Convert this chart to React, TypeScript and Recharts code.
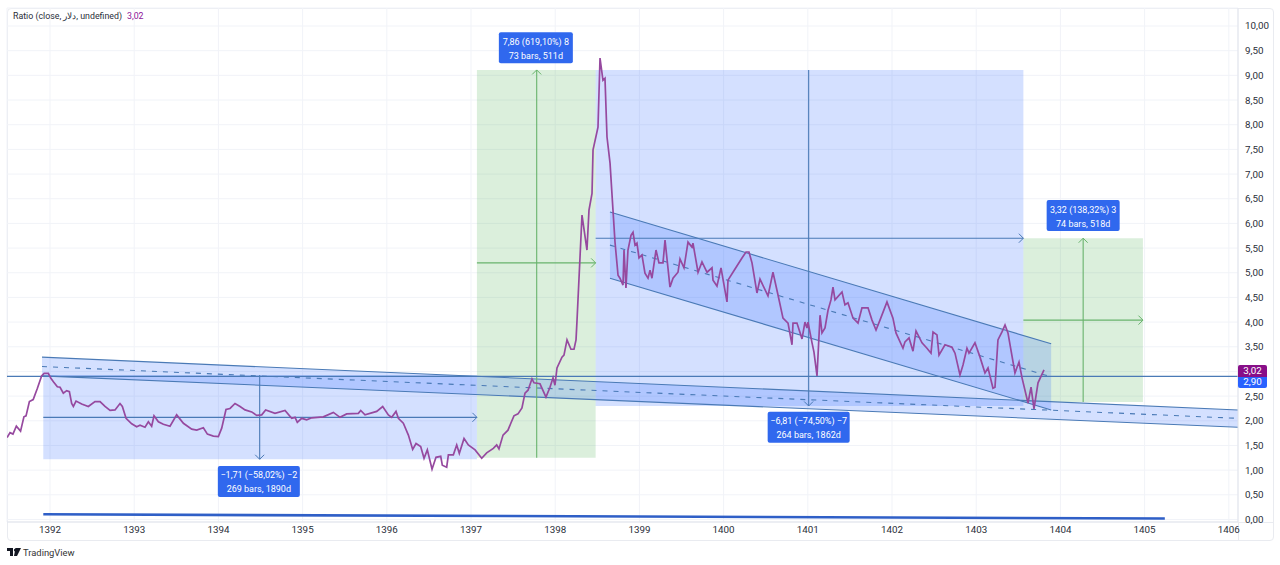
import React from "react";
import { ComposedChart, Line, Area, XAxis, YAxis, CartesianGrid, ReferenceArea, ReferenceLine, ReferenceDot } from "recharts";

const yTicks = [0,0.5,1,1.5,2,2.5,3,3.5,4,4.5,5,5.5,6,6.5,7,7.5,8,8.5,9,9.5,10];
const xTicks = [1392,1393,1394,1395,1396,1397,1398,1399,1400,1401,1402,1403,1404,1405,1406];

const years1 = [1391.49,1391.525,1391.56,1391.6,1391.65,1391.69,1391.715,1391.755,1391.8,1391.85,1391.9,1391.93,1391.98,1392.01,1392.04,1392.087,1392.119,1392.158,1392.198,1392.23,1392.257,1392.277,1392.309,1392.376,1392.455,1392.534,1392.594,1392.653,1392.713,1392.772,1392.831,1392.859,1392.903,1392.97,1393.029,1393.069,1393.128,1393.168,1393.207,1393.235,1393.287,1393.346,1393.425,1393.504,1393.584,1393.683,1393.742,1393.821,1393.869,1393.94,1393.999,1394.039,1394.09,1394.138,1394.197,1394.257,1394.316,1394.395,1394.454,1394.514,1394.561,1394.672,1394.791,1394.87,1394.91,1394.937,1394.989,1395.048,1395.108,1395.246,1395.365,1395.444,1395.523,1395.662,1395.69,1395.741,1395.88,1395.951,1396.018,1396.058,1396.109,1396.137,1396.196,1396.256,1396.307,1396.347,1396.402,1396.442,1396.481,1396.537,1396.584,1396.64,1396.659,1396.711,1396.731,1396.79,1396.83,1396.861,1396.917,1396.968,1397.048,1397.127,1397.186,1397.265,1397.305];
const values1 = [1.66,1.76,1.73,1.89,1.79,2.08,2.1,2.39,2.43,2.66,2.91,2.96,2.96,2.86,2.79,2.69,2.68,2.56,2.61,2.59,2.35,2.29,2.4,2.34,2.29,2.39,2.39,2.29,2.21,2.22,2.35,2.29,2.05,1.94,1.88,1.91,1.87,1.98,1.89,2.1,1.98,1.93,1.89,2.12,1.95,1.83,1.81,1.86,1.73,1.69,1.68,1.85,2.23,2.25,2.35,2.29,2.22,2.18,2.11,2.12,2.22,2.15,2.21,2.05,2.07,1.97,2.05,2.02,2.06,2.08,2.17,2.07,2.14,2.15,2.21,2.12,2.19,2.29,2.12,2.07,2.19,2.05,1.95,1.71,1.42,1.54,1.48,1.24,1.41,1.02,1.26,1.28,1.1,1.06,1.31,1.31,1.51,1.34,1.64,1.51,1.41,1.24,1.35,1.44,1.51];

const years2 = [1397.332,1397.38,1397.439,1397.475,1397.51,1397.558,1397.605,1397.641,1397.677,1397.724,1397.748,1397.819,1397.89,1397.938,1397.974,1397.997,1398.021,1398.08,1398.104,1398.14,1398.187,1398.223,1398.247,1398.259,1398.318,1398.377,1398.401,1398.437,1398.449,1398.508,1398.532,1398.567,1398.591,1398.615,1398.651,1398.686,1398.71,1398.746,1398.769,1398.805,1398.817,1398.84,1398.864,1398.9,1398.924,1398.948,1398.971,1398.995,1399.03,1399.066,1399.102,1399.126,1399.149,1399.197,1399.232,1399.28,1399.304,1399.363,1399.399,1399.458,1399.482,1399.529,1399.577,1399.624,1399.636,1399.696,1399.743,1399.803,1399.862,1399.874,1399.921,1399.969];
const values2 = [1.43,1.71,1.81,1.96,2.1,2.14,2.26,2.56,2.62,2.85,2.77,2.75,2.48,2.68,2.87,2.72,3.07,3.29,3.33,3.64,3.45,3.45,3.64,4.04,6.17,5.46,6.27,6.61,7.49,7.95,9.35,8.9,8.94,7.75,7.22,6.27,5.62,4.95,4.89,4.75,5.46,4.69,5.46,5.76,5.82,5.56,5.6,5.3,5.36,4.99,4.89,5.05,4.89,5.46,5.2,5.2,5.66,4.71,4.89,5.01,5.28,5.1,5.62,5.52,5.6,5.01,5.22,5.01,5.1,4.85,4.73,5.1];

const years3 = [1400.04,1400.052,1400.111,1400.218,1400.266,1400.301,1400.337,1400.396,1400.432,1400.527,1400.586,1400.646,1400.705,1400.765,1400.812,1400.824,1400.871,1400.931,1400.966,1400.99,1401.002,1401.05,1401.073,1401.109,1401.145,1401.168,1401.204,1401.24,1401.275,1401.299,1401.323,1401.406,1401.441,1401.477,1401.537,1401.596,1401.643,1401.715,1401.762,1401.81,1401.857,1401.94,1402.011,1402.047,1402.13,1402.154,1402.202,1402.249,1402.285,1402.356,1402.415,1402.463,1402.487,1402.534,1402.558,1402.629,1402.712,1402.748,1402.807,1402.843,1402.89,1402.914,1402.985,1403.045,1403.104,1403.14,1403.199,1403.223,1403.258,1403.306,1403.342,1403.377,1403.46,1403.508,1403.544,1403.615,1403.651,1403.686,1403.734,1403.805];
const values3 = [4.41,4.85,5.01,5.3,5.42,5.42,5.2,4.59,4.87,4.53,5.01,4.55,4.08,3.98,3.54,3.98,3.98,3.66,4,3.88,4,3.58,3.39,2.91,4.14,3.78,3.88,4.24,4.45,4.71,4.45,4.61,4.35,4.39,4.08,3.98,4.29,4.29,4.04,3.84,4.04,4.41,4.08,3.78,3.47,3.6,3.68,3.41,3.82,3.58,3.47,3.37,3.8,3.74,3.33,3.54,3.49,3.37,2.93,3.13,3.47,3.37,3.58,3.29,2.97,3.07,2.66,2.68,3.64,3.8,3.94,3.78,2.97,3.19,2.87,2.36,2.68,2.24,2.77,3.03];

const ratioData = [...years1, ...years2, ...years3].map((year, i) => ({ year, ratio: [...values1, ...values2, ...values3][i] }));

const wideChannelYears = [1391.905, 1406.109];
const wideChannelTop = [3.29, 2.22];
const wideChannelMid = [3.1, 2.05];
const wideChannelBottom = [2.91, 1.87];
const steepChannelYears = [1398.65, 1403.89];
const steepChannelTop = [6.23, 3.56];
const steepChannelMid = [5.56, 2.89];
const steepChannelBottom = [4.89, 2.22];
const wideChannel = wideChannelYears.map((year, i) => ({ year, band: [wideChannelBottom[i], wideChannelTop[i]] }));
const steepChannel = steepChannelYears.map((year, i) => ({ year, band: [steepChannelBottom[i], steepChannelTop[i]] }));

const baseYears = [1391.92, 1405.24];
const baseValues = [0.105, 0.02];

const BLUE = "#2962ff";
const GREEN = "#4caf50";
const STEEL = "#4a7ab6";
const ARROW_GREEN = "#68b36c";
const FONT = "Roboto, 'Noto Sans', sans-serif";

type Dir = "up" | "down" | "right";
const chevron = (dir: Dir, color: string) => (p: any) => {
  const { cx, cy } = p;
  const s = 4.5;
  const d = dir === "right"
    ? `M${cx - s} ${cy - s}L${cx} ${cy}L${cx - s} ${cy + s}`
    : dir === "up"
    ? `M${cx - s} ${cy + s}L${cx} ${cy}L${cx + s} ${cy + s}`
    : `M${cx - s} ${cy - s}L${cx} ${cy}L${cx + s} ${cy - s}`;
  return <path d={d} fill="none" stroke={color} strokeWidth={1} />;
};

const tag = (lines: string[], w: number) => (p: any) => {
  const { cx, cy } = p;
  return (
    <g>
      <rect x={cx - w / 2} y={cy - 15.5} width={w} height={31} rx={2} fill="#3068ee" />
      <text x={cx} y={cy - 3} textAnchor="middle" fontSize={9} fontFamily={FONT} fill="#fff">{lines[0]}</text>
      <text x={cx} y={cy + 11} textAnchor="middle" fontSize={9} fontFamily={FONT} fill="#fff">{lines[1]}</text>
    </g>
  );
};

function seg(x1: number, y1: number, x2: number, y2: number, color: string, extra: any = {}) {
  return (
    <ReferenceLine
      key={`${x1}-${y1}-${x2}-${y2}`}
      segment={[{ x: x1, y: y1 }, { x: x2, y: y2 }]}
      stroke={color}
      strokeWidth={1.1}
      ifOverflow="visible"
      {...extra}
    />
  );
}

// The 3,00 label sits behind the live value tags, as in the reference.
const fmt = (v: number) => (v === 3 ? "" : v.toFixed(2).replace(".", ","));

export default function App() {
  return (
    <div style={{ position: "absolute", left: 0, top: 0, width: 1280, height: 565, background: "#fff", overflow: "hidden", fontFamily: FONT }}>
      <div style={{ position: "absolute", left: 7, top: 8, width: 1267, height: 533, border: "1px solid #e9ebf0", borderRadius: 4, boxSizing: "border-box" }} />
      <div style={{ position: "absolute", left: 1238, top: 522, width: 36, height: 1, background: "#e9ebf0" }} />
      <div style={{ position: "absolute", left: 1238, top: 522, width: 1, height: 19, background: "#e9ebf0" }} />
      <ComposedChart width={1280} height={565} margin={{ top: 8, right: 0, bottom: 0, left: 7 }} style={{ position: "absolute", left: 0, top: 0 }}>
        <CartesianGrid stroke="#f1f3f8" strokeWidth={1} />
        <XAxis
          dataKey="year"
          type="number"
          domain={[1391.489, 1406.109]}
          ticks={xTicks}
          allowDataOverflow
          height={43}
          interval={0}
          tickLine={false}
          tickSize={0}
          axisLine={{ stroke: "#e0e3eb" }}
          tickMargin={4}
          tick={{ fontSize: 9.8, fill: "#2a2e39", fontFamily: FONT }}
          tickFormatter={(v: number) => String(v)}
        />
        <YAxis
          type="number"
          orientation="right"
          domain={[-0.051, 10.365]}
          ticks={yTicks}
          allowDataOverflow
          width={42}
          interval={0}
          tickLine={false}
          tickSize={0}
          axisLine={{ stroke: "#e0e3eb" }}
          tickMargin={7}
          tick={{ fontSize: 9.8, fill: "#2a2e39", fontFamily: FONT }}
          tickFormatter={fmt}
        />

        <ReferenceArea x1={1391.92} x2={1397.07} y1={1.22} y2={2.93} fill={BLUE} fillOpacity={0.2} stroke="none" />
        <ReferenceArea x1={1397.07} x2={1398.48} y1={1.25} y2={9.11} fill={GREEN} fillOpacity={0.2} stroke="none" />
        <ReferenceArea x1={1398.48} x2={1403.56} y1={2.3} y2={9.11} fill={BLUE} fillOpacity={0.2} stroke="none" />
        <ReferenceArea x1={1403.56} x2={1404.98} y1={2.38} y2={5.7} fill={GREEN} fillOpacity={0.2} stroke="none" />

        <Area data={wideChannel} dataKey="band" type="linear" fill={BLUE} fillOpacity={0.2} stroke="none" isAnimationActive={false} dot={false} activeDot={false} />
        <Area data={steepChannel} dataKey="band" type="linear" fill={BLUE} fillOpacity={0.2} stroke="none" isAnimationActive={false} dot={false} activeDot={false} />

        {seg(wideChannelYears[0], wideChannelTop[0], wideChannelYears[1], wideChannelTop[1], STEEL)}
        {seg(wideChannelYears[0], wideChannelBottom[0], wideChannelYears[1], wideChannelBottom[1], STEEL)}
        {seg(wideChannelYears[0], wideChannelMid[0], wideChannelYears[1], wideChannelMid[1], STEEL, { strokeDasharray: "5 6" })}
        {seg(steepChannelYears[0], steepChannelTop[0], steepChannelYears[1], steepChannelTop[1], STEEL)}
        {seg(steepChannelYears[0], steepChannelBottom[0], steepChannelYears[1], steepChannelBottom[1], STEEL)}
        {seg(steepChannelYears[0], steepChannelMid[0], steepChannelYears[1], steepChannelMid[1], STEEL, { strokeDasharray: "5 6" })}

        {seg(1391.92, 2.07, 1397.07, 2.07, STEEL)}
        {seg(1394.49, 2.93, 1394.49, 1.22, STEEL)}
        {seg(1398.48, 5.7, 1403.56, 5.7, STEEL)}
        {seg(1401.01, 9.11, 1401.01, 2.3, STEEL)}
        {seg(1397.07, 5.2, 1398.48, 5.2, ARROW_GREEN)}
        {seg(1397.78, 1.25, 1397.78, 9.11, ARROW_GREEN)}
        {seg(1403.56, 4.04, 1404.98, 4.04, ARROW_GREEN)}
        {seg(1404.27, 2.38, 1404.27, 5.7, ARROW_GREEN)}
        {seg(1391.489, 2.9, 1406.109, 2.9, STEEL)}
        {seg(baseYears[0], baseValues[0], baseYears[1], baseValues[1], "#2f5fc7", { strokeWidth: 2.6 })}

        <ReferenceDot x={1397.07} y={2.07} shape={chevron("right", STEEL)} />
        <ReferenceDot x={1394.49} y={1.22} shape={chevron("down", STEEL)} />
        <ReferenceDot x={1403.56} y={5.7} shape={chevron("right", STEEL)} />
        <ReferenceDot x={1401.01} y={2.3} shape={chevron("down", STEEL)} />
        <ReferenceDot x={1398.48} y={5.2} shape={chevron("right", ARROW_GREEN)} />
        <ReferenceDot x={1397.78} y={9.11} shape={chevron("up", ARROW_GREEN)} />
        <ReferenceDot x={1404.98} y={4.04} shape={chevron("right", ARROW_GREEN)} />
        <ReferenceDot x={1404.27} y={5.7} shape={chevron("up", ARROW_GREEN)} />

        <Line data={ratioData} dataKey="ratio" type="linear" stroke="#96499f" strokeWidth={1.7} dot={false} activeDot={false} isAnimationActive={false} />

        <ReferenceDot x={1394.48} y={0.77} shape={tag(["\u22121,71 (\u221258,02%) \u22122", "269 bars, 1890d"], 82)} />
        <ReferenceDot x={1397.77} y={9.56} shape={tag(["7,86 (619,10%) 8", "73 bars, 511d"], 74)} />
        <ReferenceDot x={1401.01} y={1.87} shape={tag(["\u22126,81 (\u221274,50%) \u22127", "264 bars, 1862d"], 82)} />
        <ReferenceDot x={1404.27} y={6.16} shape={tag(["3,32 (138,32%) 3", "74 bars, 518d"], 73)} />
      </ComposedChart>

      <div style={{ position: "absolute", left: 13, top: 10, fontSize: 8.8, color: "#2a2e39", whiteSpace: "nowrap", lineHeight: "13px" }}>
        Ratio (close, <span dir="rtl">دلار</span>, undefined)<span style={{ color: "#8e1599", marginLeft: 5 }}>3,02</span>
      </div>
      <div style={{ position: "absolute", left: 1238, top: 365, width: 29, height: 12, background: "#880e88", color: "#fff", fontSize: 9.8, lineHeight: "12px", textAlign: "center", borderRadius: "2px 2px 0 0" }}>3,02</div>
      <div style={{ position: "absolute", left: 1238, top: 377, width: 29, height: 10.5, background: "#2962ff", color: "#fff", fontSize: 9.8, lineHeight: "10.5px", textAlign: "center", borderRadius: "0 0 2px 2px" }}>2,90</div>
      <svg style={{ position: "absolute", left: 7, top: 548 }} width={14} height={9}>
        <path d="M0 0H6V8H3V3H0ZM8.5 0H14L10 8H7Z" fill="#131722" />
        <circle cx={8.5} cy={2} r={1.6} fill="#131722" />
      </svg>
      <div style={{ position: "absolute", left: 23, top: 546, fontSize: 9.4, color: "#333", lineHeight: "13px" }}>TradingView</div>
    </div>
  );
}
